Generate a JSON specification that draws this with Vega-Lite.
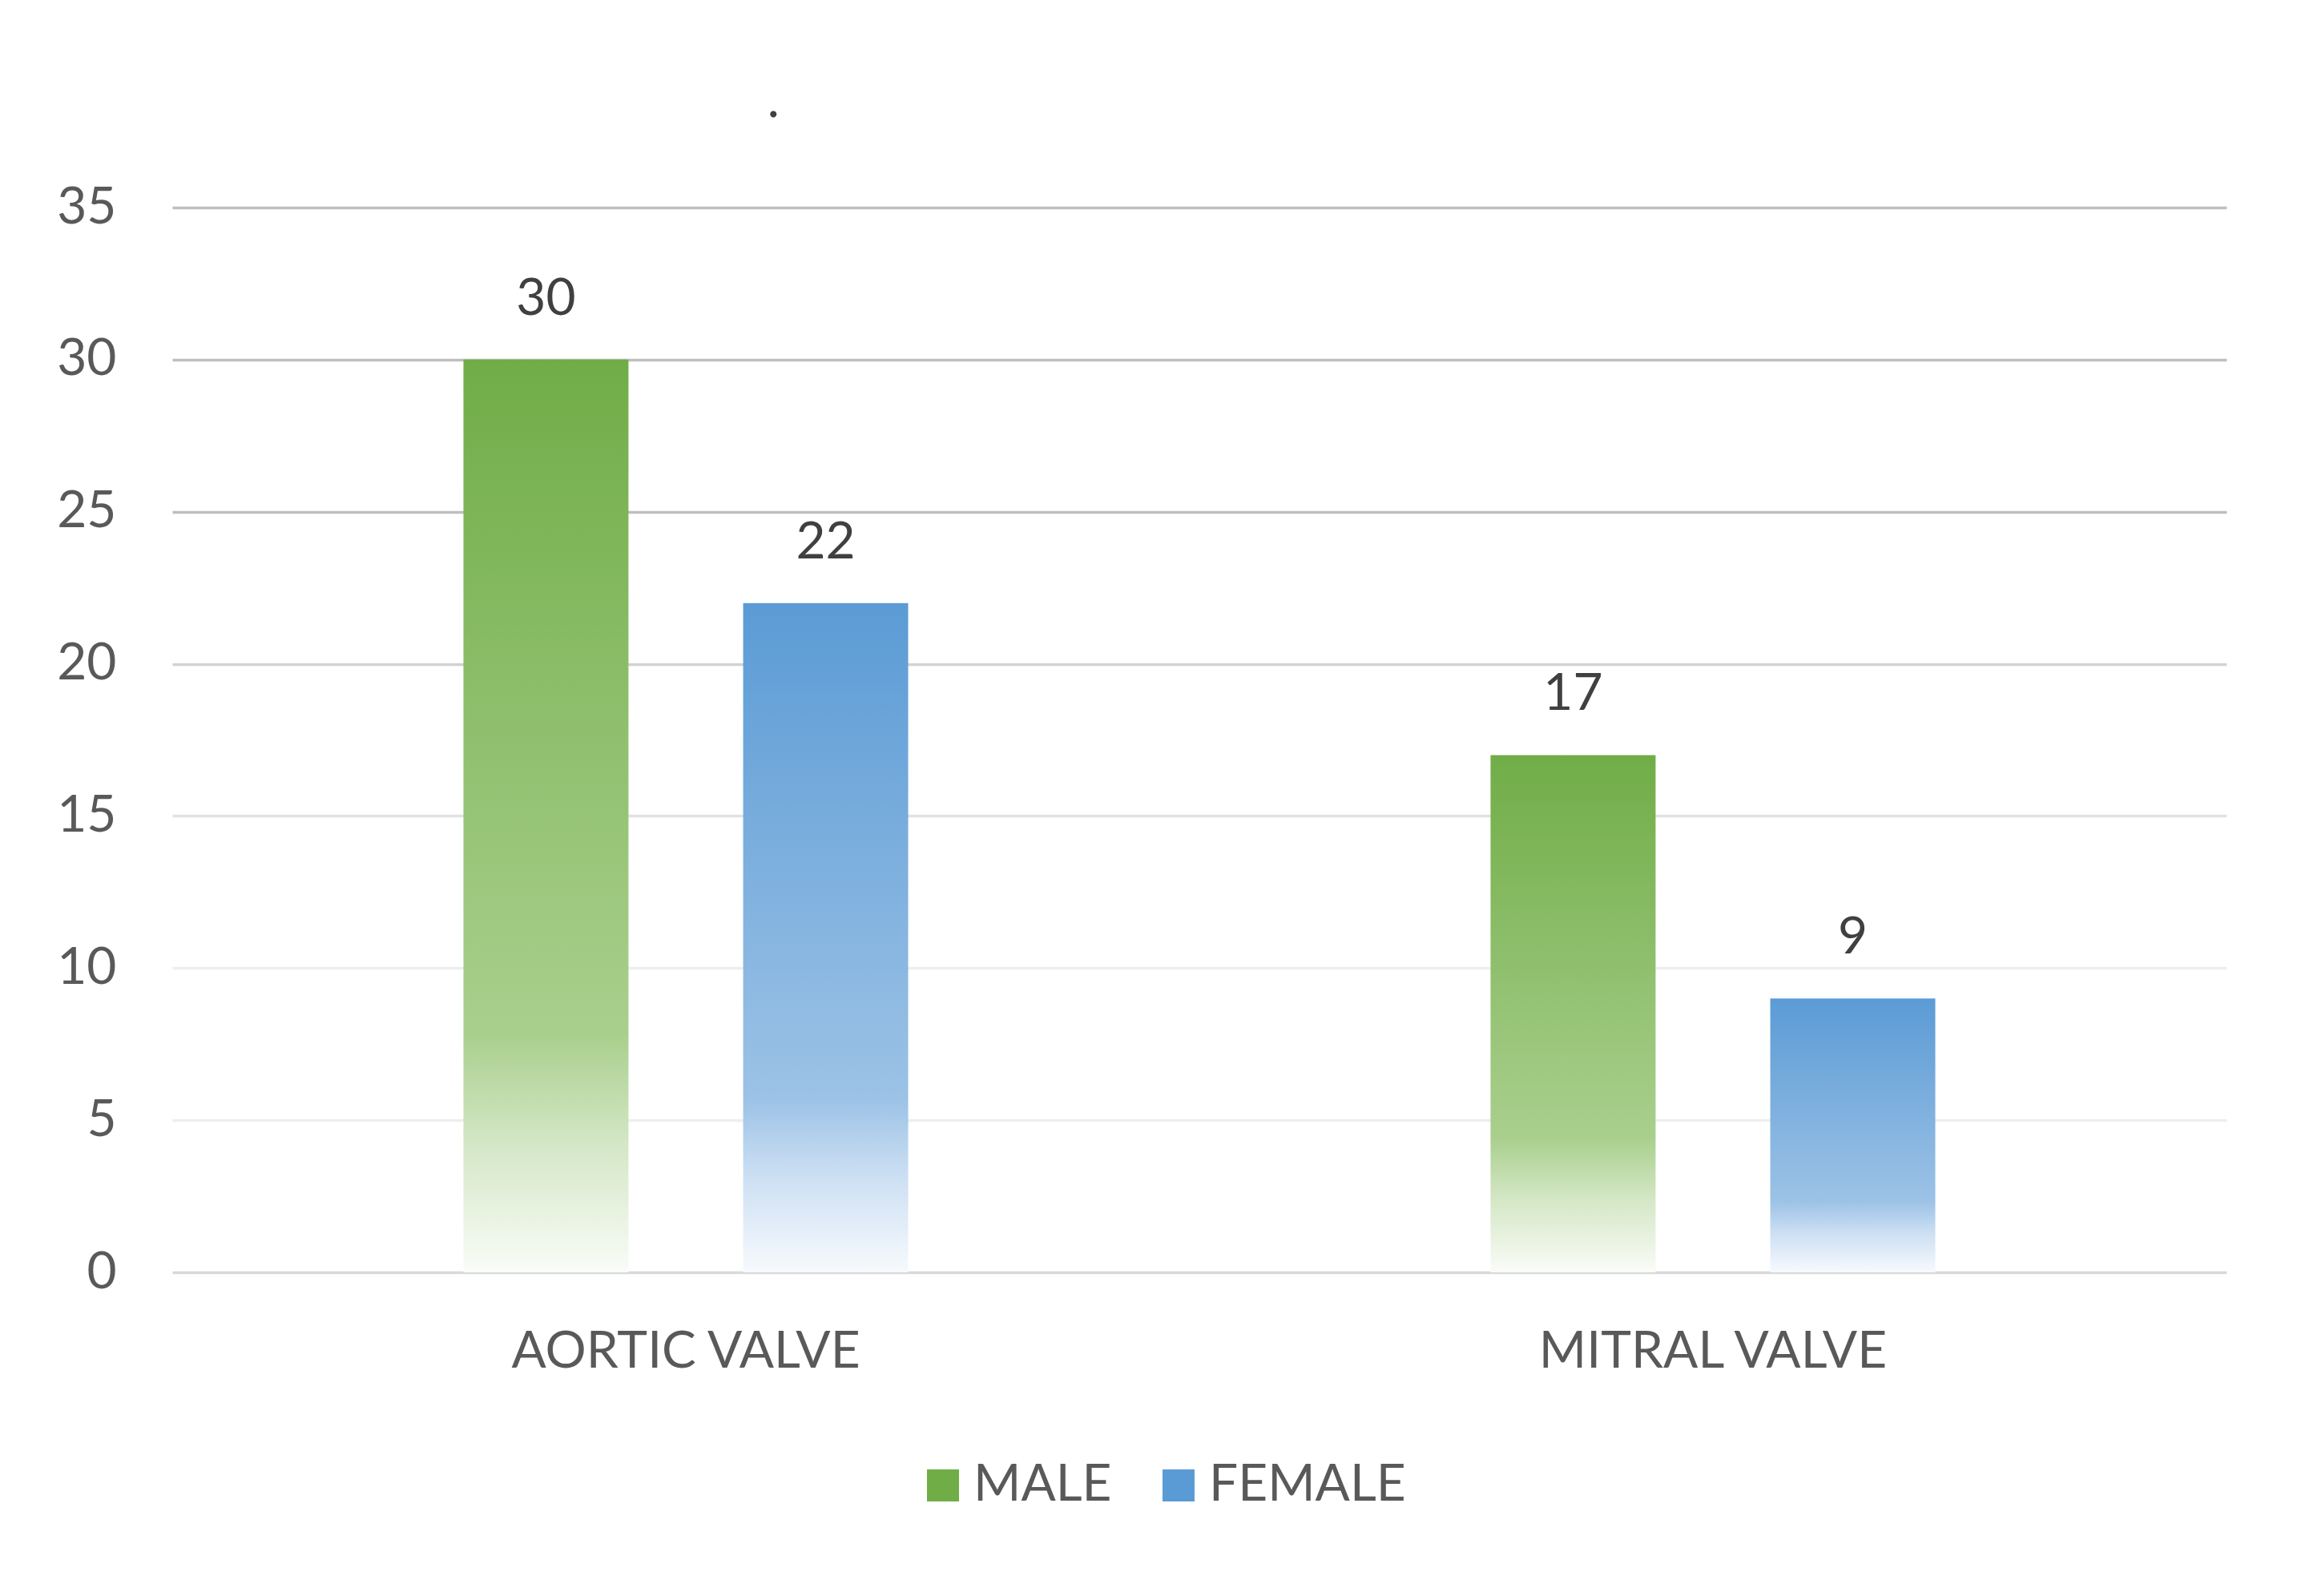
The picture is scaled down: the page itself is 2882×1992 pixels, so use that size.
{
  "$schema": "https://vega.github.io/schema/vega-lite/v6.json",
  "width": 2564,
  "height": 1329,
  "autosize": "none",
  "padding": {"left": 215, "top": 259, "right": 103, "bottom": 404},
  "background": "white",
  "config": {"view": {"stroke": null}},
  "title": {"text": ".", "anchor": "start", "dx": 887, "offset": 17, "baseline": "alphabetic", "font": "Lato", "fontSize": 64, "fontWeight": "normal", "color": "#404040"},
  "data": {"values": [
    {"valve": "AORTIC VALVE", "sex": "MALE", "count": 30},
    {"valve": "AORTIC VALVE", "sex": "FEMALE", "count": 22},
    {"valve": "MITRAL VALVE", "sex": "MALE", "count": 17},
    {"valve": "MITRAL VALVE", "sex": "FEMALE", "count": 9}
  ]},
  "encoding": {
    "x": {"field": "valve", "type": "nominal", "sort": null,
      "scale": {"paddingInner": 0.567, "paddingOuter": 0.2835},
      "axis": {"title": null, "labelAngle": 0, "labelLimit": 0, "domain": false, "ticks": false, "tickSize": 0, "labelPadding": 67, "labelFont": "Lato", "labelFontSize": 64, "labelColor": "#595959", "grid": false}},
    "xOffset": {"field": "sex", "type": "nominal", "sort": ["MALE", "FEMALE"], "scale": {"paddingInner": 0.41, "paddingOuter": 0}},
    "y": {"field": "count", "type": "quantitative", "scale": {"domain": [0, 35], "nice": false},
      "axis": {"title": null, "values": [0, 5, 10, 15, 20, 25, 30, 35], "domain": false, "ticks": false, "tickSize": 0, "labelPadding": 70, "labelFont": "Lato", "labelFontSize": 64, "labelColor": "#595959",
        "gridColor": {"condition": [
          {"test": "datum.value == 0", "value": "#d9d9d9"},
          {"test": "datum.value >= 25", "value": "#bfbfbf"},
          {"test": "datum.value == 20", "value": "#d2d2d2"},
          {"test": "datum.value == 15", "value": "#e2e2e2"}
        ], "value": "#eeeeee"},
        "gridWidth": 3.5}}
  },
  "layer": [
    {
      "mark": {"type": "bar", "opacity": 0, "strokeWidth": 0},
      "encoding": {
        "fill": {"field": "sex", "type": "nominal", "sort": ["MALE", "FEMALE"],
          "scale": {"domain": ["MALE", "FEMALE"], "range": ["#70ad47", "#5b9bd5"]},
          "legend": {"title": null, "orient": "none", "legendX": 930, "legendY": 1563, "padding": 0, "direction": "horizontal", "symbolType": "square", "symbolSize": 1600, "symbolStrokeWidth": 0, "symbolOpacity": 1, "labelLimit": 0, "labelFont": "Lato", "labelFontSize": 64, "labelColor": "#595959", "columnPadding": 51, "labelOffset": 6}}
      }
    },
    {
      "mark": {"type": "bar", "strokeWidth": 0},
      "encoding": {
        "fill": {"condition": {"test": "datum.sex === 'MALE'", "value": {"gradient": "linear", "x1": 0, "y1": 0, "x2": 0, "y2": 1, "stops": [
              {"offset": 0, "color": "#70ad47"},
              {"offset": 0.74, "color": "#a9cf8d"},
              {"offset": 0.86, "color": "#d4e7c6"},
              {"offset": 1, "color": "#fafcf8"}]}},
          "value": {"gradient": "linear", "x1": 0, "y1": 0, "x2": 0, "y2": 1, "stops": [
              {"offset": 0, "color": "#5b9bd5"},
              {"offset": 0.74, "color": "#9cc2e6"},
              {"offset": 0.86, "color": "#cde0f3"},
              {"offset": 1, "color": "#f7fafd"}]}}
      }
    },
    {
      "mark": {"type": "text", "baseline": "alphabetic", "dy": -56, "font": "Lato", "fontSize": 64, "color": "#404040"},
      "encoding": {"text": {"field": "count", "type": "quantitative"}}
    }
  ]
}
